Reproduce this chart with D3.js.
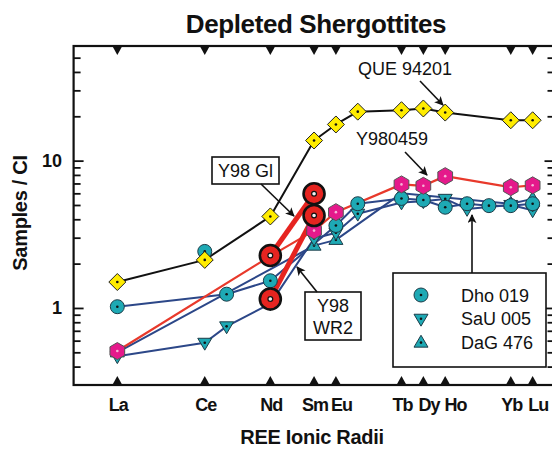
<!DOCTYPE html>
<html>
<head>
<meta charset="utf-8">
<script src="https://cdn.jsdelivr.net/npm/d3@7"></script>
<style>
  html, body { margin: 0; padding: 0; background: #fff; }
  svg { display: block; font-family: "Liberation Sans", Arial, Helvetica, sans-serif; }
</style>
</head>
<body>
<svg id="chart" width="552" height="449"></svg>
<script>
// ---------- data ----------
const elements    = ["La","Ce","Pr","Nd","Sm","Eu","Gd","Tb","Dy","Ho","Er","Tm","Yb","Lu"];
const elementPos  = [0, 4, 5, 7, 9, 10, 11, 13, 14, 15, 16, 17, 18, 19];
const axisElements = ["La","Ce","Nd","Sm","Eu","Tb","Dy","Ho","Yb","Lu"];
const yTickLabels = [1, 10];
const yMinorTicks = [0.4,0.5,0.6,0.7,0.8,0.9,2,3,4,5,6,7,8,9,20,30,40,50];

const que94201 = [1.5, 2.12, null, 4.18, 13.7, 17.6, 21.5, 22.0, 22.6, 21.2, null, null, 18.8, 18.8];
const y980459  = [0.51, null, null, 2.25, 3.35, 4.47, null, 6.9, 6.75, 7.85, null, null, 6.6, 6.8];
const y98Gl    = [null, null, null, 2.27, 5.96, null, null, null, null, null, null, null, null, null];
const y98WR2   = [null, null, null, 1.15, 4.24, null, null, null, null, null, null, null, null, null];
const dho019   = [1.02, 2.42, 1.24, 1.53, null, 3.63, 5.1, 5.54, 5.4, 4.83, 5.1, 4.95, 4.95, 5.1];
const dho019Unconnected = ["Ce"];
const sau005   = [0.47, 0.58, 0.75, 1.07, 2.96, 3.24, 4.36, 5.2, 5.3, 5.5, 4.7, null, 5.0, 4.6];
const dag476   = [0.5, null, null, null, 2.65, 2.9, null, 6.0, null, null, null, null, 5.1, 5.5];

const legendNames = ["Dho 019", "SaU 005", "DaG 476"];

// ---------- setup ----------
const svg = d3.select("#chart");
const x = d3.scaleLinear().domain([-2, 20]).range([73.6, 554.5]);
const y = d3.scaleLog().domain([0.3, 60]).range([385, 46]);
const posOf = {};
elements.forEach((e, i) => posOf[e] = elementPos[i]);

const C = {
  yellow: "#ffec00", magenta: "#e5198b", red: "#e62420", teal: "#1ea9b4",
  navy: "#2c4788", redLine: "#e8392b", tealStroke: "#1d3c48"
};

function pts(values, skip) {
  skip = skip || [];
  return elements.map((e, i) => ({e, v: values[i]}))
    .filter(d => d.v != null && !skip.includes(d.e));
}
const lineGen = d3.line().x(d => x(posOf[d.e])).y(d => y(d.v));

// ---------- frame & axes ----------
const xmin = x.range()[0], xmax = x.range()[1];
const ytop = y.range()[1], ybot = y.range()[0];
const frame = svg.append("g");

function yTicks(side, vals, len) {
  const ax = side === "left" ? d3.axisRight(y) : d3.axisLeft(y);
  frame.append("g").attr("transform", `translate(${side === "left" ? xmin : xmax},0)`)
    .call(ax.tickValues(vals).tickSize(len).tickFormat(""))
    .call(g => g.select(".domain").remove())
    .call(g => g.selectAll("line").attr("stroke", "#111").attr("stroke-width", 1.8));
}
yTicks("left", yTickLabels, 10);
yTicks("left", yMinorTicks, 7);
yTicks("right", yTickLabels, 10);
yTicks("right", yMinorTicks, 7);

frame.append("rect").attr("x", xmin).attr("y", ytop).attr("width", xmax - xmin).attr("height", ybot - ytop)
  .attr("fill", "none").attr("stroke", "#111").attr("stroke-width", 2.2);

// y tick labels
frame.selectAll(".ylab").data(yTickLabels).join("text")
  .attr("x", 62).attr("y", d => y(d) + 6.5).attr("text-anchor", "end")
  .attr("font-size", 18).attr("font-weight", "bold").attr("fill", "#111")
  .text(d => d);

// element triangles on top and bottom
frame.selectAll(".ttri").data(axisElements).join("path")
  .attr("d", e => `M${x(posOf[e]) - 5},${ytop} L${x(posOf[e]) + 5},${ytop} L${x(posOf[e])},${ytop + 9}Z`)
  .attr("fill", "#111");
frame.selectAll(".btri").data(axisElements).join("path")
  .attr("d", e => `M${x(posOf[e]) - 5},${ybot} L${x(posOf[e]) + 5},${ybot} L${x(posOf[e])},${ybot - 9}Z`)
  .attr("fill", "#111");

// x labels, spread apart so neighbours never collide
const minGap = 26.5;
const labelX = [];
axisElements.forEach((e, i) => {
  const want = x(posOf[e]) + 1;
  labelX.push(i === 0 ? want : Math.max(want, labelX[i - 1] + minGap));
});
frame.selectAll(".xlab").data(axisElements).join("text")
  .attr("x", (e, i) => labelX[i]).attr("y", 411).attr("text-anchor", "middle")
  .attr("font-size", 18).attr("font-weight", "bold").attr("letter-spacing", -1).attr("fill", "#111")
  .text(e => e);

// titles
svg.append("text").attr("x", 316).attr("y", 33).attr("text-anchor", "middle")
  .attr("font-size", 26).attr("font-weight", "bold").attr("letter-spacing", -0.4).attr("fill", "#111")
  .text("Depleted Shergottites");
svg.append("text").attr("x", 312).attr("y", 444).attr("text-anchor", "middle")
  .attr("font-size", 20).attr("font-weight", "bold").attr("letter-spacing", -0.3).attr("fill", "#111")
  .text("REE Ionic Radii");
svg.append("text").attr("transform", "translate(27,213) rotate(-90)").attr("text-anchor", "middle")
  .attr("font-size", 20).attr("font-weight", "bold").attr("letter-spacing", -0.3).attr("fill", "#111")
  .text("Samples / CI");

// ---------- lines ----------
const lines = svg.append("g").attr("fill", "none").attr("stroke-linejoin", "round");
lines.append("path").attr("d", lineGen(pts(dag476))).attr("stroke", C.navy).attr("stroke-width", 2);
lines.append("path").attr("d", lineGen(pts(sau005))).attr("stroke", C.navy).attr("stroke-width", 2);
lines.append("path").attr("d", lineGen(pts(dho019, dho019Unconnected))).attr("stroke", C.navy).attr("stroke-width", 2);
lines.append("path").attr("d", lineGen(pts(y980459))).attr("stroke", C.redLine).attr("stroke-width", 2.2);
lines.append("path").attr("d", lineGen(pts(que94201))).attr("stroke", "#111").attr("stroke-width", 2);
lines.append("path").attr("d", lineGen(pts(y98Gl))).attr("stroke", C.red).attr("stroke-width", 5);
lines.append("path").attr("d", lineGen(pts(y98WR2))).attr("stroke", C.red).attr("stroke-width", 5);

// ---------- markers ----------
const shapes = {
  circle: r => `M${r},0 A${r},${r} 0 1,1 ${-r},0 A${r},${r} 0 1,1 ${r},0Z`,
  down: r => `M${-r},${-r * 0.65} L${r},${-r * 0.65} L0,${r * 1.05}Z`,
  up: r => `M${-r},${r * 0.65} L${r},${r * 0.65} L0,${-r * 1.05}Z`,
  diamond: r => `M0,${-r} L${r},0 L0,${r} L${-r},0Z`,
  hexagon: r => d3.range(6).map(k => {
      const a = -Math.PI / 2 + k * Math.PI / 3;
      return (k ? "L" : "M") + (r * Math.cos(a)).toFixed(2) + "," + (r * Math.sin(a)).toFixed(2);
    }).join("") + "Z"
};

function markers(values, shape, r, fill, stroke, sw, dotFill) {
  const data = pts(values);
  const m = svg.append("g").selectAll("g").data(data).join("g")
    .attr("transform", d => `translate(${x(posOf[d.e])},${y(d.v)})`);
  m.append("path").attr("d", shapes[shape](r)).attr("fill", fill).attr("stroke", stroke).attr("stroke-width", sw);
  m.append("circle").attr("r", 1.3).attr("fill", dotFill);
}

markers(dag476, "up", 7, C.teal, C.tealStroke, 1, "#111");
markers(sau005, "down", 7, C.teal, C.tealStroke, 1, "#111");
markers(dho019, "circle", 7, C.teal, C.tealStroke, 1, "#111");
markers(y980459, "hexagon", 8.5, C.magenta, "#555", 1, "#f6b3d6");
markers(que94201, "diamond", 8.5, C.yellow, "#222", 1, "#111");

function bigRed(values) {
  const data = pts(values);
  const m = svg.append("g").selectAll("g").data(data).join("g")
    .attr("transform", d => `translate(${x(posOf[d.e])},${y(d.v)})`);
  m.append("circle").attr("r", 10.5).attr("fill", C.red).attr("stroke", "#111").attr("stroke-width", 2.6);
  m.append("circle").attr("r", 2.4).attr("fill", "#f2f2f2").attr("stroke", "#111").attr("stroke-width", 1.2);
}
bigRed(y98Gl);
bigRed(y98WR2);

// ---------- annotations ----------
const defs = svg.append("defs");
defs.append("marker").attr("id", "arr").attr("viewBox", "0 0 10 10").attr("refX", 9).attr("refY", 5)
  .attr("markerWidth", 9).attr("markerHeight", 9).attr("markerUnits", "userSpaceOnUse").attr("orient", "auto")
  .append("path").attr("d", "M0,0 L10,5 L0,10 L2.5,5Z").attr("fill", "#111");

const ann = svg.append("g");
function arrow(x1, y1, x2, y2) {
  ann.append("line").attr("x1", x1).attr("y1", y1).attr("x2", x2).attr("y2", y2)
    .attr("stroke", "#111").attr("stroke-width", 1.6).attr("marker-end", "url(#arr)");
}
function label(txt, lx, ly, anchor) {
  ann.append("text").attr("x", lx).attr("y", ly).attr("text-anchor", anchor || "start")
    .attr("font-size", 18).attr("fill", "#111").text(txt);
}

label("QUE 94201", 358, 75);
arrow(420, 81, 443, 105);
label("Y980459", 356, 145);
arrow(405, 152, 427, 175);

ann.append("rect").attr("x", 212).attr("y", 157).attr("width", 67).attr("height", 27)
  .attr("fill", "#fff").attr("stroke", "#111").attr("stroke-width", 1.6);
label("Y98 Gl", 245.5, 177, "middle");
arrow(261, 184, 294, 216);

ann.append("rect").attr("x", 305).attr("y", 292).attr("width", 56).attr("height", 48)
  .attr("fill", "#fff").attr("stroke", "#111").attr("stroke-width", 1.6);
label("Y98", 333, 312, "middle");
label("WR2", 333, 334, "middle");
arrow(317, 292, 297, 267);

// legend
ann.append("rect").attr("x", 393).attr("y", 273).attr("width", 153).attr("height", 94)
  .attr("fill", "#fff").attr("stroke", "#111").attr("stroke-width", 1.6);
arrow(472, 273, 472, 215);
const legShapes = ["circle", "down", "up"];
legendNames.forEach((n, i) => {
  const ly = 295 + i * 23.8;
  const g = ann.append("g").attr("transform", `translate(421,${ly})`);
  g.append("path").attr("d", shapes[legShapes[i]](7)).attr("fill", C.teal).attr("stroke", C.tealStroke).attr("stroke-width", 1);
  g.append("circle").attr("r", 1.3).attr("fill", "#111");
  label(n, 461, ly + 6.5);
});
</script>
</body>
</html>
